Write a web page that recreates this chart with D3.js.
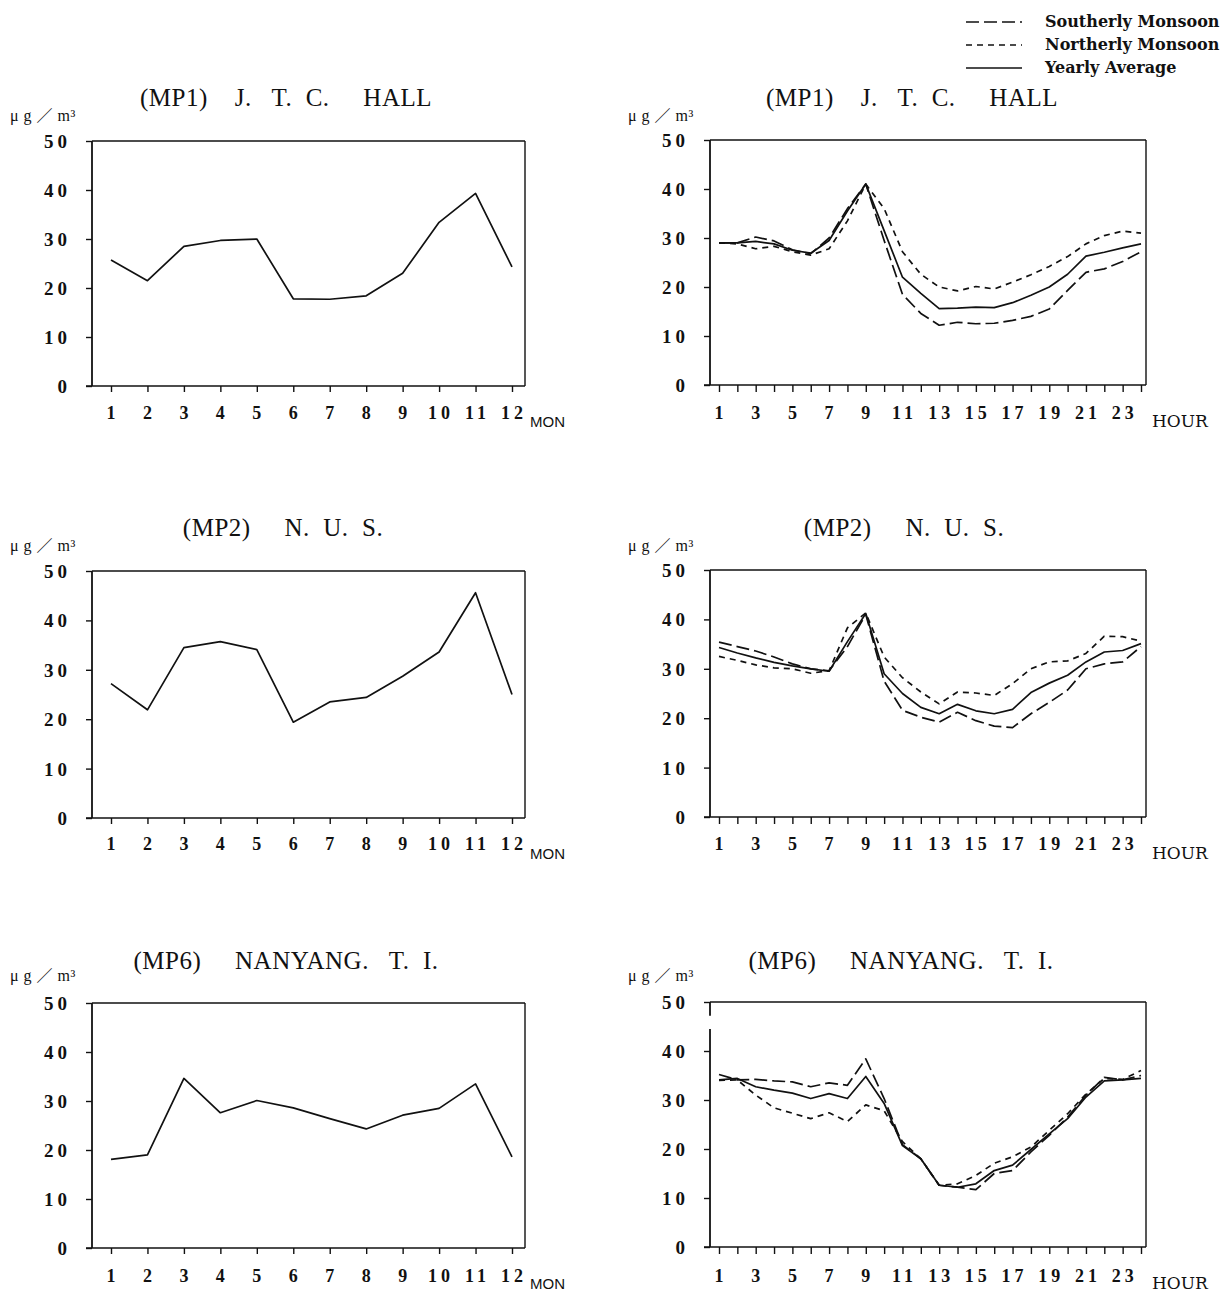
<!DOCTYPE html>
<html>
<head>
<meta charset="utf-8">
<script src="https://cdn.jsdelivr.net/npm/d3@7"></script>
<style>
  html, body { margin: 0; padding: 0; background: #fff; }
  svg { display: block; }
  text { fill: #111; }
</style>
</head>
<body>
<svg id="chart" width="1229" height="1292"></svg>
<script>
// ---------------- DATA ----------------
const months = [1, 2, 3, 4, 5, 6, 7, 8, 9, 10, 11, 12];
const monthTickLabels = ["1", "2", "3", "4", "5", "6", "7", "8", "9", "10", "11", "12"];
const hours = [1,2,3,4,5,6,7,8,9,10,11,12,13,14,15,16,17,18,19,20,21,22,23,24];
const hourTickLabels = ["1", "3", "5", "7", "9", "11", "13", "15", "17", "19", "21", "23"];
const yTicks = [0, 10, 20, 30, 40, 50];

const titles = ["(MP1)    J.   T.  C.     HALL", "(MP2)     N.  U.  S.", "(MP6)     NANYANG.   T.  I."];
const unitLabel = "μ g ／ m³";
const seriesNames = ["Southerly Monsoon", "Northerly Monsoon", "Yearly Average"];

// monthly averages (µg/m³)
const mp1Monthly = [25.7, 21.5, 28.5, 29.7, 30.0, 17.8, 17.7, 18.4, 23.0, 33.4, 39.3, 24.3];
const mp2Monthly = [27.2, 21.9, 34.5, 35.7, 34.1, 19.4, 23.5, 24.4, 28.7, 33.6, 45.6, 25.0];
const mp6Monthly = [18.1, 19.0, 34.6, 27.6, 30.1, 28.6, 26.4, 24.3, 27.1, 28.5, 33.5, 18.6];

// hourly averages (µg/m³)
const mp1South = [29.0, 29.0, 30.2, 29.4, 27.6, 26.8, 30.0, 36.0, 41.0, 29.5, 18.5, 14.6, 12.2, 12.8, 12.5, 12.6, 13.2, 14.0, 15.5, 19.3, 23.0, 23.7, 25.2, 27.2];
const mp1North = [29.0, 28.8, 27.8, 28.3, 27.2, 26.5, 27.8, 33.5, 41.0, 36.0, 27.2, 22.6, 20.0, 19.2, 20.1, 19.6, 21.0, 22.5, 24.2, 26.2, 28.8, 30.5, 31.4, 31.0];
const mp1Year  = [29.0, 29.0, 29.3, 28.8, 27.5, 26.9, 29.5, 35.5, 41.0, 31.5, 22.0, 18.7, 15.6, 15.7, 15.9, 15.8, 16.8, 18.3, 20.0, 22.6, 26.3, 27.1, 28.0, 28.8];

const mp2South = [35.4, 34.5, 33.6, 32.4, 31.0, 30.0, 29.6, 34.5, 41.0, 27.5, 21.6, 20.2, 19.2, 21.2, 19.5, 18.4, 18.1, 20.9, 23.2, 25.7, 30.0, 31.0, 31.4, 34.5];
const mp2North = [32.5, 31.7, 30.8, 30.2, 30.0, 29.1, 29.6, 38.3, 41.3, 32.4, 28.2, 25.3, 22.9, 25.3, 25.1, 24.6, 27.0, 30.0, 31.4, 31.6, 33.1, 36.6, 36.5, 35.6];
const mp2Year  = [34.3, 33.2, 32.2, 31.3, 30.6, 30.0, 29.5, 35.5, 41.2, 29.0, 25.0, 22.2, 20.9, 22.8, 21.5, 20.9, 21.8, 25.2, 27.1, 28.7, 31.4, 33.4, 33.7, 35.1];

const mp6South = [35.2, 34.1, 34.2, 33.9, 33.7, 32.7, 33.5, 33.0, 38.4, 30.3, 20.9, 18.0, 12.6, 12.2, 11.7, 15.0, 15.6, 19.4, 22.8, 26.5, 31.0, 34.6, 34.1, 35.0];
const mp6North = [34.0, 34.1, 31.0, 28.4, 27.3, 26.2, 27.4, 25.6, 29.0, 27.8, 21.5, 18.0, 12.6, 12.9, 14.6, 17.1, 18.4, 20.4, 23.8, 27.2, 31.2, 34.4, 34.2, 36.0];
const mp6Year  = [34.1, 34.4, 32.7, 32.0, 31.4, 30.3, 31.3, 30.3, 34.8, 29.3, 20.7, 18.0, 12.6, 12.2, 12.9, 15.6, 16.7, 19.9, 23.1, 26.2, 30.6, 33.9, 34.1, 34.4];

// ---------------- STYLE / LAYOUT ----------------
const INK = "#111";
const dashStyles = { south: "13,5", north: "6,5", year: null };
const numFont = "'Liberation Serif', 'DejaVu Serif', serif";
const svg = d3.select("#chart");

const rows = [
  { top: 141, bottom: 386, titleY: 106, unitY: 121, labY: 419, subY: 427 },
  { top: 571, bottom: 818, titleY: 536, unitY: 551, labY: 850, subY: 859 },
  { top: 1003, bottom: 1248, titleY: 969, unitY: 981, labY: 1282, subY: 1289 }
];
const leftCol  = { x0: 92,  x1: 525,  first: 111, last: 512, titleX: [286, 283, 286], unitX: 10 };
const rightCol = { x0: 710, x1: 1146, first: 719, last: 1141, titleX: [912, 904, 901], unitX: 628 };

const monthlySets = [mp1Monthly, mp2Monthly, mp6Monthly];
const hourlySets = [
  { south: mp1South, north: mp1North, year: mp1Year },
  { south: mp2South, north: mp2North, year: mp2Year },
  { south: mp6South, north: mp6North, year: mp6Year }
];

function drawFrame(g, col, row, gapFrom, gapTo, y) {
  g.append("line").attr("x1", col.x0).attr("x2", col.x1).attr("y1", row.top).attr("y2", row.top)
    .attr("stroke", INK).attr("stroke-width", 1.6);
  g.append("line").attr("x1", col.x1).attr("x2", col.x1).attr("y1", row.top).attr("y2", row.bottom)
    .attr("stroke", INK).attr("stroke-width", 1.4);
  g.append("line").attr("x1", col.x0 - 6).attr("x2", col.x1).attr("y1", row.bottom).attr("y2", row.bottom)
    .attr("stroke", INK).attr("stroke-width", 1.6);
  if (gapFrom != null) {
    g.append("line").attr("x1", col.x0).attr("x2", col.x0).attr("y1", row.top).attr("y2", y(gapFrom))
      .attr("stroke", INK).attr("stroke-width", 1.8);
    g.append("line").attr("x1", col.x0).attr("x2", col.x0).attr("y1", y(gapTo)).attr("y2", row.bottom)
      .attr("stroke", INK).attr("stroke-width", 1.8);
  } else {
    g.append("line").attr("x1", col.x0).attr("x2", col.x0).attr("y1", row.top).attr("y2", row.bottom)
      .attr("stroke", INK).attr("stroke-width", 1.8);
  }
}

function yAxisAndLabels(g, col, row, y, idx) {
  const ax = d3.axisLeft(y).tickValues(yTicks).tickSize(6).tickFormat("");
  const ag = g.append("g").attr("transform", `translate(${col.x0},0)`).call(ax);
  ag.select(".domain").remove();
  ag.selectAll(".tick line").attr("stroke", INK).attr("stroke-width", 1.4);
  g.selectAll(".ylab").data(yTicks).enter().append("text")
    .attr("x", col.x0 - 21).attr("y", d => y(d) + 7)
    .attr("text-anchor", "end")
    .style("font-family", numFont).style("font-weight", "bold").style("font-size", "19px")
    .style("letter-spacing", "4px")
    .text(d => String(d));
  g.append("text").attr("x", col.titleX[idx]).attr("y", row.titleY)
    .attr("text-anchor", "middle")
    .style("font-family", numFont).style("font-size", "25px")
    .style("letter-spacing", "0.5px")
    .style("white-space", "pre")
    .text(titles[idx]);
  g.append("text").attr("x", col.unitX).attr("y", row.unitY)
    .style("font-family", numFont + ", 'Noto Sans CJK JP'").style("font-size", "16px")
    .style("letter-spacing", "0.5px")
    .style("white-space", "pre")
    .text(unitLabel);
}

function drawMonthly(idx) {
  const row = rows[idx], col = leftCol;
  const g = svg.append("g");
  const x = d3.scaleLinear().domain([1, 12]).range([col.first, col.last]);
  const y = d3.scaleLinear().domain([0, 50]).range([row.bottom, row.top]);
  drawFrame(g, col, row, null, null, y);
  yAxisAndLabels(g, col, row, y, idx);
  const xa = d3.axisBottom(x).tickValues(months).tickSize(6).tickFormat("");
  const xg = g.append("g").attr("transform", `translate(0,${row.bottom})`).call(xa);
  xg.select(".domain").remove();
  xg.selectAll(".tick line").attr("stroke", INK).attr("stroke-width", 1.4);
  g.selectAll(".mlab").data(months).enter().append("text")
    .attr("x", d => x(d) + 2).attr("y", row.labY)
    .attr("text-anchor", "middle")
    .style("font-family", numFont).style("font-weight", "bold").style("font-size", "18px")
    .style("letter-spacing", "4px")
    .text((d, i) => monthTickLabels[i]);
  g.append("text").attr("x", col.x1 + 5).attr("y", row.subY)
    .style("font-family", "'Liberation Sans', Arial, sans-serif").style("font-size", "15px")
    .text("MON");
  const line = d3.line().x((d, i) => x(months[i])).y(d => y(d));
  g.append("path").datum(monthlySets[idx]).attr("d", line)
    .attr("fill", "none").attr("stroke", INK).attr("stroke-width", 1.7).attr("stroke-linejoin", "round");
}

function drawHourly(idx) {
  const row = rows[idx], col = rightCol;
  const g = svg.append("g");
  const x = d3.scaleLinear().domain([1, 24]).range([col.first, col.last]);
  const y = d3.scaleLinear().domain([0, 50]).range([row.bottom - 1, row.top - 1]);
  const fr = { top: row.top - 1, bottom: row.bottom - 1 };
  if (idx === 2) drawFrame(g, col, fr, 47.2, 44.5, y);
  else drawFrame(g, col, fr, null, null, y);
  yAxisAndLabels(g, col, row, y, idx);
  const xa = d3.axisBottom(x).tickValues(hours).tickSize(7).tickFormat("");
  const xg = g.append("g").attr("transform", `translate(0,${row.bottom - 1})`).call(xa);
  xg.select(".domain").remove();
  xg.selectAll(".tick line").attr("stroke", INK).attr("stroke-width", 1.4);
  g.selectAll(".hlab").data(hourTickLabels).enter().append("text")
    .attr("x", d => x(+d) + 2).attr("y", row.labY)
    .attr("text-anchor", "middle")
    .style("font-family", numFont).style("font-weight", "bold").style("font-size", "18px")
    .style("letter-spacing", "4px")
    .text(d => d);
  g.append("text").attr("x", col.x1 + 6).attr("y", row.subY)
    .style("font-family", "'DejaVu Serif', serif").style("font-size", "17px")
    .text("HOUR");
  const set = hourlySets[idx];
  const line = d3.line().x((d, i) => x(hours[i])).y(d => y(d));
  [["south", set.south], ["north", set.north], ["year", set.year]].forEach(([k, arr]) => {
    g.append("path").datum(arr).attr("d", line)
      .attr("fill", "none").attr("stroke", INK).attr("stroke-width", 1.7)
      .attr("stroke-linejoin", "round")
      .attr("stroke-dasharray", dashStyles[k]);
  });
}

[0, 1, 2].forEach(i => { drawMonthly(i); drawHourly(i); });

// ---------------- LEGEND ----------------
const legend = svg.append("g");
const legKeys = ["south", "north", "year"];
const legY = [22, 45, 68];
legKeys.forEach((k, i) => {
  legend.append("line").attr("x1", 966).attr("x2", 1022).attr("y1", legY[i]).attr("y2", legY[i])
    .attr("stroke", INK).attr("stroke-width", 1.4).attr("stroke-dasharray", dashStyles[k]);
  legend.append("text").attr("x", 1045).attr("y", legY[i] + 5)
    .style("font-family", "'DejaVu Serif', serif").style("font-weight", "bold").style("font-size", "16px")
    .text(seriesNames[i]);
});
</script>
</body>
</html>
